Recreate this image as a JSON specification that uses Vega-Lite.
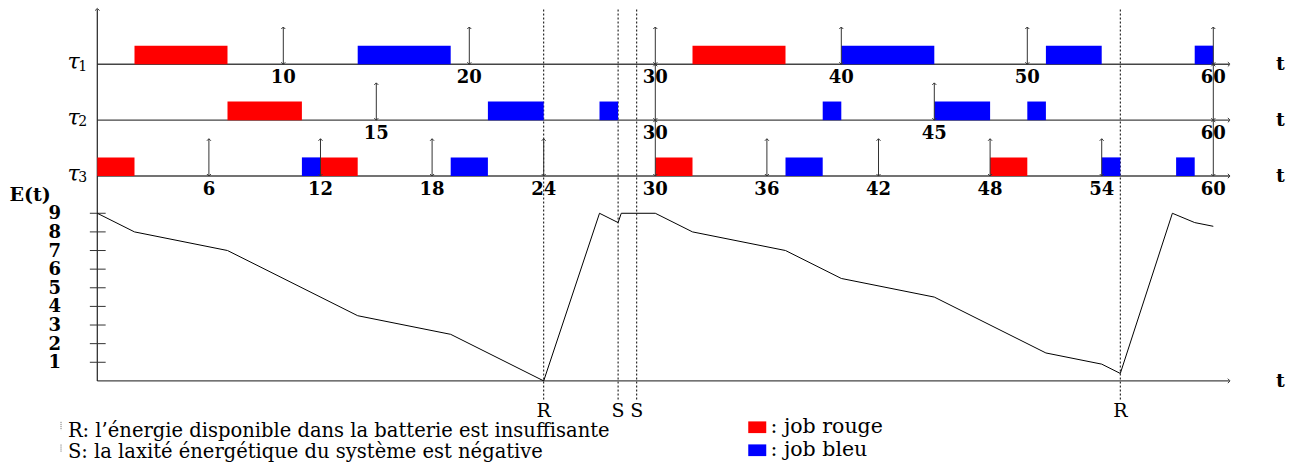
{
  "$schema": "https://vega.github.io/schema/vega-lite/v6.json",
  "width": 1295,
  "height": 468,
  "autosize": "none",
  "padding": 0,
  "background": "white",
  "config": {"view": {"stroke": null}, "text": {"font": "DejaVu Serif", "color": "black"}, "axis": {"disable": true}},
  "datasets": {
    "jobs": [
      {"task": "τ1", "start": 2, "end": 7, "job": "rouge"},
      {"task": "τ1", "start": 14, "end": 19, "job": "bleu"},
      {"task": "τ1", "start": 32, "end": 37, "job": "rouge"},
      {"task": "τ1", "start": 40, "end": 45, "job": "bleu"},
      {"task": "τ1", "start": 51, "end": 54, "job": "bleu"},
      {"task": "τ1", "start": 59, "end": 60, "job": "bleu"},
      {"task": "τ2", "start": 7, "end": 11, "job": "rouge"},
      {"task": "τ2", "start": 21, "end": 24, "job": "bleu"},
      {"task": "τ2", "start": 27, "end": 28, "job": "bleu"},
      {"task": "τ2", "start": 39, "end": 40, "job": "bleu"},
      {"task": "τ2", "start": 45, "end": 48, "job": "bleu"},
      {"task": "τ2", "start": 50, "end": 51, "job": "bleu"},
      {"task": "τ3", "start": 0, "end": 2, "job": "rouge"},
      {"task": "τ3", "start": 11, "end": 12, "job": "bleu"},
      {"task": "τ3", "start": 12, "end": 14, "job": "rouge"},
      {"task": "τ3", "start": 19, "end": 21, "job": "bleu"},
      {"task": "τ3", "start": 30, "end": 32, "job": "rouge"},
      {"task": "τ3", "start": 37, "end": 39, "job": "bleu"},
      {"task": "τ3", "start": 48, "end": 50, "job": "rouge"},
      {"task": "τ3", "start": 54, "end": 55, "job": "bleu"},
      {"task": "τ3", "start": 58, "end": 59, "job": "bleu"}
    ],
    "releases": [
      {"task": "τ1", "t": 10}, {"task": "τ1", "t": 20}, {"task": "τ1", "t": 30},
      {"task": "τ1", "t": 40}, {"task": "τ1", "t": 50}, {"task": "τ1", "t": 60},
      {"task": "τ2", "t": 15}, {"task": "τ2", "t": 30}, {"task": "τ2", "t": 45}, {"task": "τ2", "t": 60},
      {"task": "τ3", "t": 6}, {"task": "τ3", "t": 12}, {"task": "τ3", "t": 18}, {"task": "τ3", "t": 24},
      {"task": "τ3", "t": 30}, {"task": "τ3", "t": 36}, {"task": "τ3", "t": 42}, {"task": "τ3", "t": 48},
      {"task": "τ3", "t": 54}, {"task": "τ3", "t": 60}
    ],
    "energy": [
      {"t": 0, "E": 9}, {"t": 2, "E": 8}, {"t": 7, "E": 7}, {"t": 14, "E": 3.5},
      {"t": 19, "E": 2.5}, {"t": 24, "E": 0}, {"t": 27, "E": 9}, {"t": 28, "E": 8.5},
      {"t": 28.17, "E": 9}, {"t": 30, "E": 9}, {"t": 32, "E": 8}, {"t": 37, "E": 7},
      {"t": 40, "E": 5.5}, {"t": 45, "E": 4.5}, {"t": 51, "E": 1.5}, {"t": 54, "E": 0.9},
      {"t": 55, "E": 0.4}, {"t": 57.8, "E": 9}, {"t": 59, "E": 8.5}, {"t": 60, "E": 8.3}
    ],
    "events": [
      {"t": 24, "ev": "R"}, {"t": 28, "ev": "S"}, {"t": 29, "ev": "S"}, {"t": 55, "ev": "R"}
    ],
    "tasks": [
      {"task": "τ1", "n": "1"}, {"task": "τ2", "n": "2"}, {"task": "τ3", "n": "3"}
    ],
    "eticks": [
      {"E": 1}, {"E": 2}, {"E": 3}, {"E": 4}, {"E": 5}, {"E": 6}, {"E": 7}, {"E": 8}, {"E": 9}
    ]
  },
  "layer": [
    {
      "data": {"name": "events"},
      "mark": {"type": "rule", "color": "black", "strokeWidth": 1, "strokeDash": [2, 2]},
      "encoding": {
        "x": {"field": "t", "type": "quantitative", "scale": {"domain": [-5.231, 64.392], "nice": false, "zero": false}},
        "y": {"datum": -1, "type": "quantitative", "scale": {"domain": [-4.677, 20.451], "nice": false, "zero": false}},
        "y2": {"datum": 20}
      }
    },
    {
      "data": {"name": "tasks"},
      "transform": [{"calculate": "datum.task === 'τ1' ? 17 : datum.task === 'τ2' ? 14 : 11", "as": "lv"}],
      "mark": {"type": "rule", "color": "#444", "strokeWidth": 1.3},
      "encoding": {
        "x": {"datum": 0, "type": "quantitative"}, "x2": {"datum": 60.85},
        "y": {"field": "lv", "type": "quantitative"}
      }
    },
    {
      "data": {"name": "tasks"},
      "transform": [{"calculate": "datum.task === 'τ1' ? 17 : datum.task === 'τ2' ? 14 : 11", "as": "lv"}],
      "mark": {"type": "point", "shape": "M-0.8,-0.8L0,0L-0.8,0.8", "filled": false, "color": "#333", "strokeWidth": 1, "size": 30, "opacity": 1},
      "encoding": {"x": {"datum": 60.9, "type": "quantitative"}, "y": {"field": "lv", "type": "quantitative"}}
    },
    {
      "data": {"values": [{}]},
      "mark": {"type": "rule", "color": "#444", "strokeWidth": 1.3},
      "encoding": {"x": {"datum": 0, "type": "quantitative"}, "x2": {"datum": 60.85}, "y": {"datum": 0, "type": "quantitative"}}
    },
    {
      "data": {"values": [{}]},
      "mark": {"type": "point", "shape": "M-0.8,-0.8L0,0L-0.8,0.8", "filled": false, "color": "#333", "strokeWidth": 1, "size": 30, "opacity": 1},
      "encoding": {"x": {"datum": 60.9, "type": "quantitative"}, "y": {"datum": 0, "type": "quantitative"}}
    },
    {
      "data": {"values": [{}]},
      "mark": {"type": "rule", "color": "#222", "strokeWidth": 1.2},
      "encoding": {"x": {"datum": 0, "type": "quantitative"}, "y": {"datum": 0, "type": "quantitative"}, "y2": {"datum": 19.95}}
    },
    {
      "data": {"values": [{}]},
      "mark": {"type": "point", "shape": "M-0.8,0.8L0,0L0.8,0.8", "filled": false, "color": "#333", "strokeWidth": 1, "size": 30, "opacity": 1},
      "encoding": {"x": {"datum": 0, "type": "quantitative"}, "y": {"datum": 20, "type": "quantitative"}}
    },
    {
      "data": {"name": "eticks"},
      "mark": {"type": "rule", "color": "#333", "strokeWidth": 1},
      "encoding": {"x": {"datum": -0.4, "type": "quantitative"}, "x2": {"datum": 0.45}, "y": {"field": "E", "type": "quantitative"}}
    },
    {
      "data": {"name": "eticks"},
      "mark": {"type": "text", "align": "right", "baseline": "middle", "fontSize": 18, "fontWeight": "bold", "dy": 1},
      "encoding": {"x": {"datum": -1.95, "type": "quantitative"}, "y": {"field": "E", "type": "quantitative"}, "text": {"field": "E", "type": "quantitative"}}
    },
    {
      "data": {"name": "jobs"},
      "transform": [
        {"calculate": "datum.task === 'τ1' ? 17 : datum.task === 'τ2' ? 14 : 11", "as": "lv"},
        {"calculate": "datum.lv + 1", "as": "lv2"}
      ],
      "mark": {"type": "rect"},
      "encoding": {
        "x": {"field": "start", "type": "quantitative"},
        "x2": {"field": "end"},
        "y": {"field": "lv", "type": "quantitative"},
        "y2": {"field": "lv2"},
        "color": {
          "field": "job", "type": "nominal",
          "scale": {"domain": ["rouge", "bleu"], "range": ["#ff0000", "#0000ff"]},
          "legend": {
            "orient": "none", "legendX": 747, "legendY": 417, "title": null, "direction": "vertical",
            "symbolType": "M-1,-0.65H1V0.65H-1Z", "symbolSize": 324, "symbolStrokeWidth": 0, "symbolOpacity": 1,
            "labelExpr": "':  job ' + datum.label", "labelFont": "DejaVu Serif", "labelFontSize": 20.5,
            "labelColor": "black", "labelOffset": 3, "rowPadding": 2, "padding": 0
          }
        }
      }
    },
    {
      "data": {"name": "releases"},
      "transform": [
        {"calculate": "datum.task === 'τ1' ? 17 : datum.task === 'τ2' ? 14 : 11", "as": "lv"},
        {"calculate": "datum.lv + ((datum.t % 30 === 0 && datum.task !== 'τ1') ? 3 : 2)", "as": "top"}
      ],
      "mark": {"type": "rule", "color": "#333", "strokeWidth": 1},
      "encoding": {"x": {"field": "t", "type": "quantitative"}, "y": {"field": "lv", "type": "quantitative"}, "y2": {"field": "top"}}
    },
    {
      "data": {"name": "releases"},
      "transform": [{"calculate": "datum.task === 'τ1' ? 17 : datum.task === 'τ2' ? 14 : 11", "as": "lv"}],
      "mark": {"type": "point", "shape": "M-0.8,-0.8L0,0L0.8,-0.8", "filled": false, "color": "#333", "strokeWidth": 1, "size": 25, "opacity": 1},
      "encoding": {"x": {"field": "t", "type": "quantitative"}, "y": {"field": "lv", "type": "quantitative"}}
    },
    {
      "data": {"name": "releases"},
      "transform": [
        {"calculate": "datum.task === 'τ1' ? 17 : datum.task === 'τ2' ? 14 : 11", "as": "base"},
        {"calculate": "datum.base + ((datum.t % 30 === 0 && datum.task !== 'τ1') ? 3 : 2)", "as": "lv"}
      ],
      "mark": {"type": "point", "shape": "M-0.8,0.8L0,0L0.8,0.8", "filled": false, "color": "#333", "strokeWidth": 1, "size": 25, "opacity": 1},
      "encoding": {"x": {"field": "t", "type": "quantitative"}, "y": {"field": "lv", "type": "quantitative"}}
    },
    {
      "data": {"name": "releases"},
      "transform": [{"calculate": "(datum.task === 'τ1' ? 17 : datum.task === 'τ2' ? 14 : 11) - 0.74", "as": "lv"}],
      "mark": {"type": "text", "baseline": "middle", "align": "center", "fontSize": 18, "fontWeight": "bold"},
      "encoding": {"x": {"field": "t", "type": "quantitative"}, "y": {"field": "lv", "type": "quantitative"}, "text": {"field": "t", "type": "quantitative"}}
    },
    {
      "data": {"name": "energy"},
      "mark": {"type": "line", "color": "black", "strokeWidth": 1},
      "encoding": {"x": {"field": "t", "type": "quantitative"}, "y": {"field": "E", "type": "quantitative"}}
    },
    {
      "data": {"name": "events"},
      "mark": {"type": "text", "baseline": "middle", "align": "center", "fontSize": 19},
      "encoding": {"x": {"field": "t", "type": "quantitative"}, "y": {"datum": -1.62, "type": "quantitative"}, "text": {"field": "ev"}}
    },
    {
      "data": {"name": "tasks"},
      "transform": [{"calculate": "(datum.task === 'τ1' ? 17 : datum.task === 'τ2' ? 14 : 11) + 0.12", "as": "lv"}],
      "mark": {"type": "text", "text": "τ", "baseline": "middle", "align": "center", "fontSize": 22, "fontStyle": "italic"},
      "encoding": {"x": {"datum": -1.28, "type": "quantitative"}, "y": {"field": "lv", "type": "quantitative"}}
    },
    {
      "data": {"name": "tasks"},
      "transform": [{"calculate": "(datum.task === 'τ1' ? 17 : datum.task === 'τ2' ? 14 : 11) - 0.12", "as": "lv"}],
      "mark": {"type": "text", "baseline": "middle", "align": "center", "fontSize": 14},
      "encoding": {"x": {"datum": -0.78, "type": "quantitative"}, "y": {"field": "lv", "type": "quantitative"}, "text": {"field": "n"}}
    },
    {
      "data": {"name": "tasks"},
      "transform": [{"calculate": "datum.task === 'τ1' ? 17 : datum.task === 'τ2' ? 14 : 11", "as": "lv"}],
      "mark": {"type": "text", "text": "t", "baseline": "middle", "align": "center", "fontSize": 19, "fontWeight": "bold"},
      "encoding": {"x": {"datum": 63.6, "type": "quantitative"}, "y": {"field": "lv", "type": "quantitative"}}
    },
    {
      "data": {"values": [{}]},
      "mark": {"type": "text", "text": "t", "baseline": "middle", "align": "center", "fontSize": 19, "fontWeight": "bold"},
      "encoding": {"x": {"datum": 63.6, "type": "quantitative"}, "y": {"datum": 0, "type": "quantitative"}}
    },
    {
      "data": {"values": [{}]},
      "mark": {"type": "text", "text": "E(t)", "baseline": "middle", "align": "left", "fontSize": 19, "fontWeight": "bold"},
      "encoding": {"x": {"datum": -4.72, "type": "quantitative"}, "y": {"datum": 10.0, "type": "quantitative"}}
    },
    {
      "data": {"values": [{}]},
      "mark": {"type": "text", "text": ["R: l’énergie disponible dans la batterie est insuffisante", "S: la laxité énergétique du système est négative"], "baseline": "alphabetic", "align": "left", "fontSize": 19.5, "lineHeight": 21},
      "encoding": {"x": {"datum": -1.58, "type": "quantitative"}, "y": {"datum": -3.03, "type": "quantitative"}}
    },
    {
      "data": {"values": [{"a": -2.2, "b": -2.64}, {"a": -3.42, "b": -3.8}]},
      "mark": {"type": "rule", "color": "#666", "strokeWidth": 1, "strokeDash": [1, 1]},
      "encoding": {"x": {"datum": -1.95, "type": "quantitative"}, "y": {"field": "a", "type": "quantitative"}, "y2": {"field": "b"}}
    }
  ]
}
